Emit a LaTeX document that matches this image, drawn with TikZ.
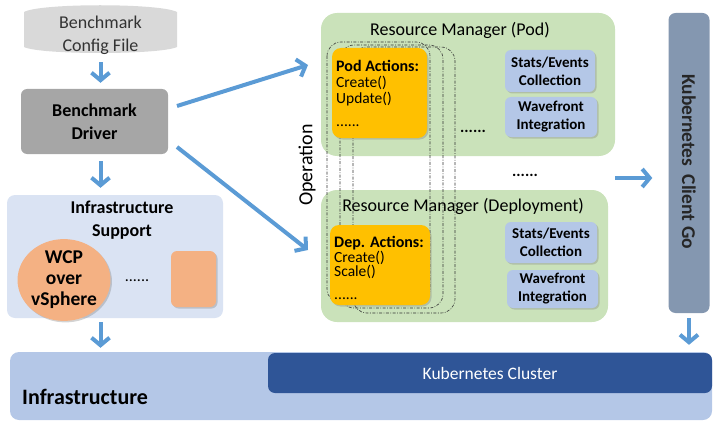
\documentclass[tikz,border=0pt]{standalone}
\usepackage{fontspec}
\setmainfont{Carlito}
\usetikzlibrary{arrows.meta,shadows,shapes.geometric}
\definecolor{arrowblue}{HTML}{5B9BD5}
\definecolor{cfggray}{HTML}{D9D9D9}
\definecolor{drvgray}{HTML}{A6A6A6}
\definecolor{suppblue}{HTML}{DAE3F3}
\definecolor{orangef}{HTML}{F4B183}
\definecolor{barblue}{HTML}{B4C7E7}
\definecolor{darkblue}{HTML}{2F5597}
\definecolor{rmgreen}{HTML}{CAE2BA}
\definecolor{actyellow}{HTML}{FFC000}
\definecolor{clientgo}{HTML}{8497B0}
\definecolor{txtgray}{HTML}{333333}
\begin{document}
\begin{tikzpicture}[x=1pt,y=-1pt,
  arr/.style={draw=arrowblue,line width=4pt,-{Straight Barb[length=7.5pt,width=18pt]}},
  box/.style={draw=none,inner sep=0pt,align=center},
  shad/.style={drop shadow={opacity=0.35,shadow xshift=1.5pt,shadow yshift=-1.5pt}},
  bigtxt/.style={font=\fontsize{18}{23}\selectfont},
  bigbold/.style={font=\fontsize{18}{23}\selectfont\bfseries},
  actline/.style={inner sep=0pt,anchor=base west,font=\fontsize{15.5}{16}\selectfont},
  acthead/.style={inner sep=0pt,anchor=base west,font=\fontsize{16}{16}\selectfont\bfseries},
  smallbold/.style={font=\fontsize{15}{18}\selectfont\bfseries},
  ddash/.style={draw=txtgray,line width=0.6pt,dash pattern=on 3pt off 1.5pt on 0.8pt off 1.5pt,rounded corners=14pt}
]
\useasboundingbox (0,0) rectangle (717,425);

% ---------- Config file ----------
\fill[cfggray] (24,47) -- (24,12) .. controls (40,3) and (160,3) .. (177,12) -- (177,47) .. controls (160,55) and (40,55) .. (24,47) -- cycle;
\node[box,bigtxt,text=txtgray,minimum width=153pt,minimum height=45pt] (config) at (100.5,35.5) {Benchmark\\Config File};

% ---------- Driver ----------
\node[box,bigbold,fill=drvgray,rounded corners=6pt,minimum width=147pt,minimum height=65pt] (drv) at (94.5,121.5) {Benchmark\\Driver};

% ---------- Infrastructure support ----------
\node[box,fill=suppblue,rounded corners=8pt,minimum width=216pt,minimum height=123pt] (infs) at (115,256.5) {};
\node[box,bigbold] (infstitle) at (122,220) {Infrastructure\\Support};
\node[box,fill=orangef,ellipse,shad,minimum width=88pt,minimum height=55pt,font=\fontsize{19.5}{21}\selectfont\bfseries] (wcp) at (64,280) {WCP\\over\\vSphere};
\node[box,font=\fontsize{16}{18}\selectfont] (infdots) at (137,281) {......};
\node[box,fill=orangef,shad,rounded corners=6pt,minimum width=45pt,minimum height=56pt] (orect) at (193.5,279) {};

% ---------- Infrastructure bar ----------
\node[box,fill=barblue,rounded corners=9pt,minimum width=702pt,minimum height=68pt] (infra) at (361,386) {};
\node[box,anchor=west,font=\fontsize{22}{24}\selectfont\bfseries] (infratxt) at (22,397) {Infrastructure};
\node[box,fill=darkblue,rounded corners=7pt,minimum width=444pt,minimum height=40pt,text=white,font=\fontsize{17.5}{20}\selectfont] (kcluster) at (490,373) {Kubernetes Cluster};

% ---------- Resource managers ----------
\node[box,fill=rmgreen,rounded corners=16pt,minimum width=294pt,minimum height=143pt] (rmp) at (468,84.5) {};
\node[box,bigtxt] (rmptitle) at (460,30) {Resource Manager (Pod)};
\node[box,fill=rmgreen,rounded corners=16pt,minimum width=287pt,minimum height=132pt] (rmd) at (464.5,256) {};
\node[box,bigtxt] (rmdtitle) at (463,206) {Resource Manager (Deployment)};

% dash-dot stacked outlines
\draw[ddash] (353,47) rectangle (455,313);
\draw[ddash] (340,45) rectangle (443,308);
\draw[ddash] (327,42) rectangle (430,303);

% action boxes
\node[box,fill=actyellow,shad,rounded corners=9pt,minimum width=95pt,minimum height=90pt] (podact) at (379.5,93) {};
\node[acthead] (pod1) at (336,72) {Pod Actions:};
\node[actline] (pod2) at (336,88) {Create()};
\node[actline] (pod3) at (336,103.5) {Update()};
\node[actline] (pod4) at (336,127) {......};
\node[box,fill=actyellow,shad,rounded corners=9pt,minimum width=100pt,minimum height=80pt] (depact) at (380,265) {};
\node[acthead] (dep1) at (334,247) {Dep. Actions:};
\node[actline] (dep2) at (334,262) {Create()};
\node[actline] (dep3) at (334,276.5) {Scale()};
\node[actline] (dep4) at (334,299) {......};

% stats / wavefront boxes
\node[box,smallbold,fill=barblue,shad,rounded corners=6pt,minimum width=90pt,minimum height=42pt] (statp) at (550,71) {Stats/Events\\Collection};
\node[box,smallbold,fill=barblue,shad,rounded corners=6pt,minimum width=92pt,minimum height=40pt] (wavep) at (551,117) {Wavefront\\Integration};
\node[box,smallbold,fill=barblue,shad,rounded corners=6pt,minimum width=92pt,minimum height=41pt] (statd) at (551,242.5) {Stats/Events\\Collection};
\node[box,smallbold,fill=barblue,shad,rounded corners=6pt,minimum width=91pt,minimum height=38pt] (waved) at (552.5,289) {Wavefront\\Integration};

\node[box,font=\fontsize{16}{18}\selectfont\bfseries] (podots) at (473,131) {......};
\node[box,font=\fontsize{16}{18}\selectfont\bfseries] (middots) at (525,175) {......};

% Operation label
\node[box,rotate=90,font=\fontsize{20}{22}\selectfont] (oper) at (307,165) {Operation};

% ---------- Kubernetes Client Go ----------
\node[box,fill=clientgo,rounded corners=7pt,minimum width=41pt,minimum height=300pt] (kcg) at (689,163) {};
\node[box,rotate=-90,font=\fontsize{19.5}{21}\selectfont\bfseries,text=black!85] (kcgtxt) at (689,161.5) {Kubernetes\hspace{4pt} Client Go};

% ---------- Arrows ----------
\draw[arr,shorten <=4pt,shorten >=6pt] (config.south) -- (config.south |- drv.north);
\draw[arr,shorten <=7pt,shorten >=7pt] (drv.south -| config.south) -- (infs.north -| config.south);
\draw[arr,shorten <=4pt,shorten >=4pt] (infs.south -| config.south) -- (infra.north -| config.south);
\coordinate (a1s) at (177,106);
\coordinate (a1e) at (308,65);
\coordinate (a2s) at (177,147);
\coordinate (a2e) at (308,250);
\draw[arr] (a1s) -- (a1e);
\draw[arr] (a2s) -- (a2e);
\coordinate (gos) at (615,178);
\draw[arr,shorten >=16pt] (gos) -- (kcg.west |- gos);
\draw[arr,shorten <=5pt,shorten >=7pt] (kcg.south) -- (kcg.south |- infra.north);
\end{tikzpicture}
\end{document}
